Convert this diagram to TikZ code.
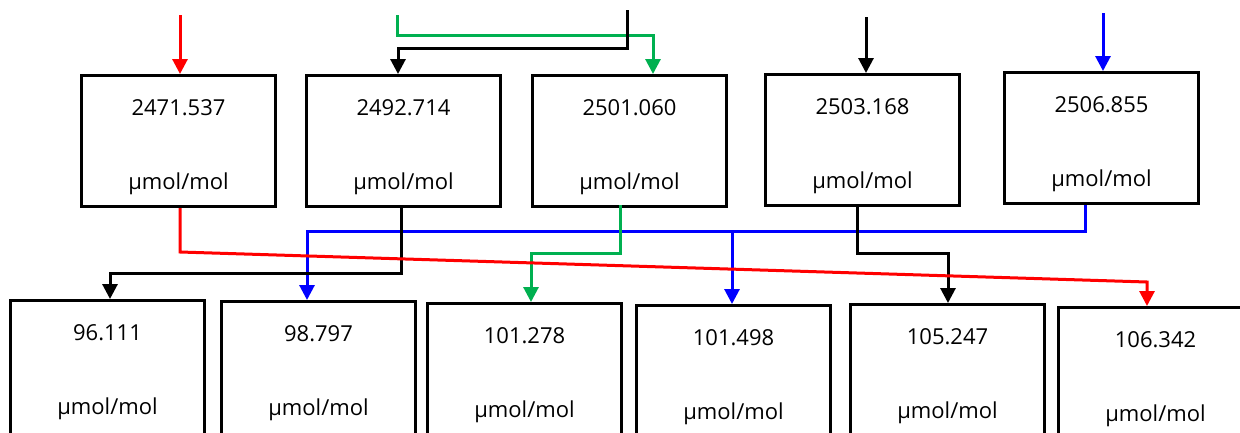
\documentclass[tikz,border=0pt]{standalone}
\usepackage{fontspec}
\setmainfont{Open Sans}
\usetikzlibrary{arrows.meta,calc}
\definecolor{lnred}{RGB}{255,0,0}
\definecolor{lngreen}{RGB}{0,176,80}
\definecolor{lnblue}{RGB}{0,0,255}
\tikzset{
  valbox/.style={draw=black, line width=3pt, rectangle, inner sep=0pt,
    minimum width=194pt, anchor=north west},
  topbox/.style={valbox, minimum height=131pt},
  lowbox/.style={valbox, minimum height=170pt},
  valtxt/.style={inner sep=0pt, anchor=center, font=\fontsize{22}{26}\selectfont},
  link/.style={line width=3pt},
  tip/.style={link, -{Triangle[length=15pt,width=15pt]}}
}
\begin{document}
\begin{tikzpicture}[x=1pt, y=-1pt]
\useasboundingbox (0,0) rectangle (1240,432);
\clip (0,0) rectangle (1240,432);

% upper row of boxes
\node[topbox] (t1) at (80,74)   {};
\node[topbox] (t2) at (305,74)  {};
\node[topbox] (t3) at (531,74)  {};
\node[topbox] (t4) at (764,73)  {};
\node[topbox] (t5) at (1003,71) {};

% lower row of boxes
\node[lowbox] (b1) at (9,299)    {};
\node[lowbox] (b2) at (220,300)  {};
\node[lowbox] (b3) at (426,302)  {};
\node[lowbox] (b4) at (635,304)  {};
\node[lowbox] (b5) at (849,303)  {};
\node[lowbox] (b6) at (1057,306) {};

% values and units
\foreach \b/\v in {t1/2471.537, t2/2492.714, t3/2501.060, t4/2503.168, t5/2506.855,
                   b1/96.111, b2/98.797, b3/101.278, b4/101.498, b5/105.247, b6/106.342}{
  \node[valtxt] (\b v) at ($(\b.north)+(0,34)$) {\v};
  \node[valtxt] (\b u) at ($(\b.north)+(0,110)$) {µmol/mol};
}

% free ends of the incoming lines
\coordinate (rin) at (180,15);
\coordinate (gin) at (397,15);
\coordinate (kin) at (627,10);
\coordinate (qin) at (866,17);
\coordinate (bin) at (1103,13);

% bend points
\coordinate (gup) at (653,35);
\coordinate (kup) at (398,48);
\coordinate (rbend) at (180,252);
\coordinate (rend) at (1147,282);
\coordinate (bbar) at (1085,231);
\coordinate (bl) at (307,231);
\coordinate (bm) at (732,231);

% incoming arrows
\draw[tip, lnred] (rin) -- (rin |- t1.north);
\draw[tip, lngreen] (gin) |- (gup) -- (gup |- t3.north);
\draw[tip, black] (kin) |- (kup) -- (kup |- t2.north);
\draw[tip, black] (qin) -- (qin |- t4.north);
\draw[tip, lnblue] (bin) -- (bin |- t5.north);

% links from upper to lower row
\draw[tip, lnblue] (t5.south -| bbar) -- (bbar) -- (bl) -- (bl |- b2.north);
\draw[tip, lnblue] (bm) -- (bm |- b4.north);
\draw[tip, black] ($(t2.south)+(-2,0)$) |- (110,273) -- (110,273 |- b1.north);
\draw[tip, lngreen] (620,205) |- (531,253) -- (531,253 |- b3.north);
\draw[tip, black] (857,205) |- (948,253) -- (948,253 |- b5.north);
\draw[tip, lnred] (t1.south -| rbend) -- (rbend) -- (rend) -- (rend |- b6.north);
\end{tikzpicture}
\end{document}
